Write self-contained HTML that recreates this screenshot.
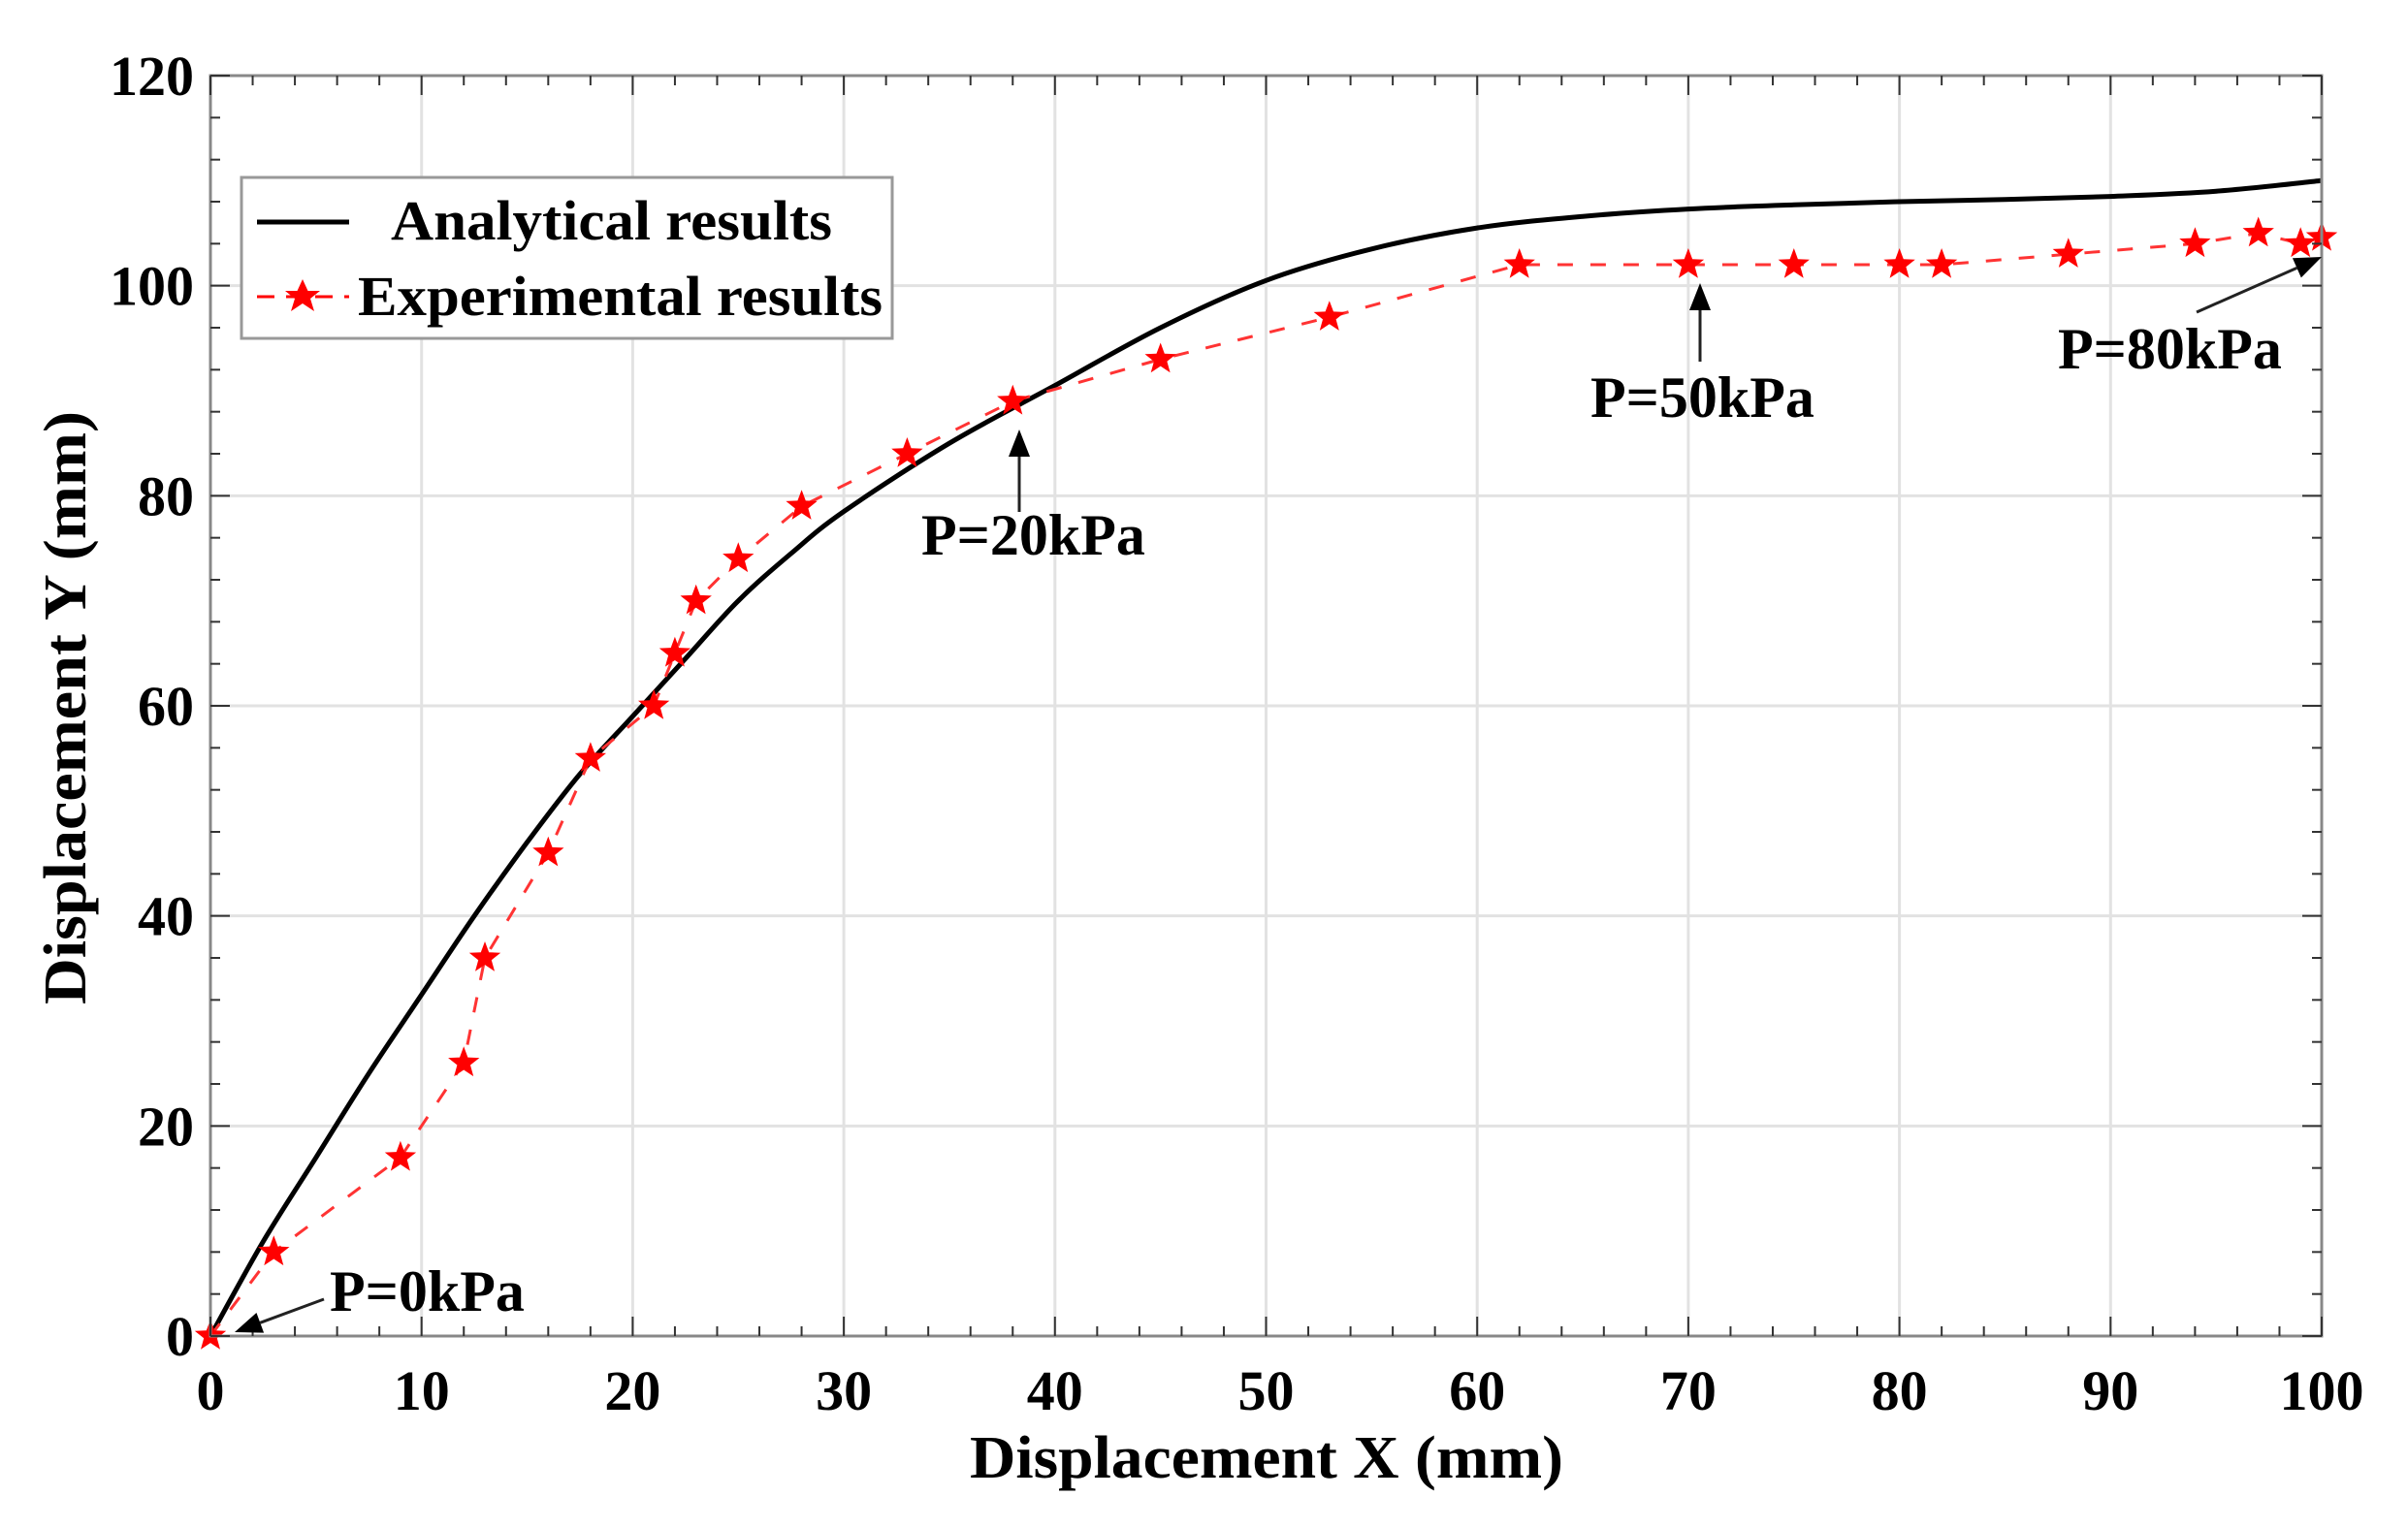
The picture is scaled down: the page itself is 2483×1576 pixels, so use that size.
<!DOCTYPE html>
<html><head><meta charset="utf-8"><style>
html,body{margin:0;padding:0;background:#fff;}
svg{display:block;font-family:"Liberation Serif",serif;font-weight:bold;}
</style></head><body>
<svg id="chart" width="2483" height="1576" viewBox="0 0 2483 1576" xmlns="http://www.w3.org/2000/svg">
<g id="grid"></g>
<g id="series"></g>
<g id="axes"></g>
<g id="annot"></g>
<text x="1306" y="1524" font-size="62" text-anchor="middle" textLength="612" lengthAdjust="spacingAndGlyphs">Displacement X (mm)</text>
<text transform="translate(88,730) rotate(-90)" font-size="62" text-anchor="middle" textLength="612" lengthAdjust="spacingAndGlyphs">Displacement Y (mm)</text>
<g>
<rect x="249" y="183" width="671" height="166" fill="#fff" stroke="#999" stroke-width="3"/>
<line x1="265" y1="229" x2="360" y2="229" stroke="#000" stroke-width="5"/>
<text x="403" y="247" font-size="58" textLength="455" lengthAdjust="spacingAndGlyphs">Analytical results</text>
<line x1="265" y1="306" x2="360" y2="306" stroke="#f00" stroke-width="3" stroke-dasharray="18,12"/>
<polygon fill="#f00" points="312,288 317.5,300 330,300 320,308 324,321 312,313 300,321 304,308 294,300 306.5,300"/>
<text x="369" y="325" font-size="58" textLength="541" lengthAdjust="spacingAndGlyphs">Experimental results</text>
</g>
</svg>
<script>
const expX=[0,3,9,12,13,16,18,21,22,23,25,28,33,38,45,53,62,70,75,80,82,88,94,97,99,100];
const expY=[0,8,17,26,36,46,55,60,65,70,74,79,84,89,93,97,102,102,102,102,102,103,104,105,104,104.6];
const anaX=[0,2.5,5,7.5,10,12.5,15,17.5,20,22.5,25,27.5,30,35,40,45,50,55,60,65,70,75,80,85,90,95,100];
const anaY=[0,9,17,25,32.5,40,47,53.5,59,64.5,70,74.5,78.5,85,90.5,96,100.5,103.5,105.5,106.6,107.3,107.7,108,108.2,108.5,109,110];
const xTicks=[0,10,20,30,40,50,60,70,80,90,100];
const yTicks=[0,20,40,60,80,100,120];

const L=217,R=2394,T=78,B=1378;
const sx=v=>L+(v/100)*(R-L);
const sy=v=>B-(v/120)*(B-T);
const NS="http://www.w3.org/2000/svg";
function mk(tag,attrs,parent){const e=document.createElementNS(NS,tag);for(const k in attrs)e.setAttribute(k,attrs[k]);parent.appendChild(e);return e;}
const grid=document.getElementById('grid'),axes=document.getElementById('axes'),series=document.getElementById('series'),annot=document.getElementById('annot');

xTicks.forEach(v=>{if(v>0&&v<100){const g=mk('line',{x1:sx(v),x2:sx(v),y1:T,y2:B,stroke:'#e2e2e2','stroke-width':3},grid);

}});
yTicks.forEach(v=>{if(v>0&&v<120){const g=mk('line',{x1:L,x2:R,y1:sy(v),y2:sy(v),stroke:'#e2e2e2','stroke-width':3},grid);

}});

// analytical line (smoothed Catmull-Rom)
const P=anaX.map((x,i)=>[sx(x),sy(anaY[i])]);
let d='M'+P[0][0].toFixed(1)+' '+P[0][1].toFixed(1);
for(let i=0;i<P.length-1;i++){const p0=P[Math.max(0,i-1)],p1=P[i],p2=P[i+1],p3=P[Math.min(P.length-1,i+2)];
const c1=[p1[0]+(p2[0]-p0[0])/6,p1[1]+(p2[1]-p0[1])/6],c2=[p2[0]-(p3[0]-p1[0])/6,p2[1]-(p3[1]-p1[1])/6];
d+='C'+c1[0].toFixed(1)+' '+c1[1].toFixed(1)+' '+c2[0].toFixed(1)+' '+c2[1].toFixed(1)+' '+p2[0].toFixed(1)+' '+p2[1].toFixed(1);}
const ap=mk('path',{d:d,fill:'none',stroke:'#000','stroke-width':5,'stroke-linejoin':'round'},series);


// experimental
let d2='';expX.forEach((x,i)=>{d2+=(i?'L':'M')+sx(x).toFixed(1)+' '+sy(expY[i]).toFixed(1);});
const ep=mk('path',{d:d2,fill:'none',stroke:'#f33','stroke-width':3,'stroke-dasharray':'16,18'},series);


function star(cx,cy,r){let p='';for(let i=0;i<10;i++){const a=-Math.PI/2+i*Math.PI/5;const rr=i%2?r*0.42:r;p+=(cx+rr*Math.cos(a)).toFixed(1)+','+(cy+rr*Math.sin(a)).toFixed(1)+' ';}return p;}
expX.forEach((x,i)=>{const s=mk('polygon',{points:star(sx(x),sy(expY[i]),17),fill:'#f00'},series);

});

// axes box
const box=mk('rect',{x:L,y:T,width:R-L,height:B-T,fill:'none',stroke:'#888','stroke-width':3},axes);


for(let v=0;v<=100;v+=2){const major=v%10===0;const len=major?20:10;
const t1=mk('line',{x1:sx(v),x2:sx(v),y1:B,y2:B-len,stroke:'#333','stroke-width':2},axes);


const t2=mk('line',{x1:sx(v),x2:sx(v),y1:T,y2:T+len,stroke:'#333','stroke-width':2},axes);

}
for(let v=0;v<=120;v+=4){const major=v%20===0;const len=major?20:10;
const t1=mk('line',{x1:L,x2:L+len,y1:sy(v),y2:sy(v),stroke:'#333','stroke-width':2},axes);


const t2=mk('line',{x1:R,x2:R-len,y1:sy(v),y2:sy(v),stroke:'#333','stroke-width':2},axes);

}
xTicks.forEach(v=>{const t=mk('text',{x:sx(v),y:1454,'font-size':58,'text-anchor':'middle'},axes);t.textContent=v;

});
yTicks.forEach(v=>{const t=mk('text',{x:200,y:sy(v)+20,'font-size':58,'text-anchor':'end'},axes);t.textContent=v;

});

// annotations
const notes=[
 {t:'P=0kPa',tx:340,ty:1352,x1:334,y1:1340,x2:242,y2:1374},
 {t:'P=20kPa',tx:950,ty:572,x1:1051,y1:528,x2:1051,y2:443},
 {t:'P=50kPa',tx:1640,ty:430,x1:1753,y1:373,x2:1753,y2:292},
 {t:'P=80kPa',tx:2122,ty:380,x1:2265,y1:322,x2:2394,y2:265}
];
notes.forEach(n=>{
 const g=mk('g',{},annot);
 
 
 const ang=Math.atan2(n.y2-n.y1,n.x2-n.x1);
 const hl=28,hw=11;
 const bx=n.x2-hl*Math.cos(ang),by=n.y2-hl*Math.sin(ang);
 mk('line',{x1:n.x1,y1:n.y1,x2:bx,y2:by,stroke:'#222','stroke-width':3},g);
 const px=-Math.sin(ang)*hw,py=Math.cos(ang)*hw;
 mk('polygon',{points:`${n.x2},${n.y2} ${bx+px},${by+py} ${bx-px},${by-py}`,fill:'#000'},g);
 const t=mk('text',{x:n.tx,y:n.ty,'font-size':60},g);t.textContent=n.t;
});
</script>
</body></html>
